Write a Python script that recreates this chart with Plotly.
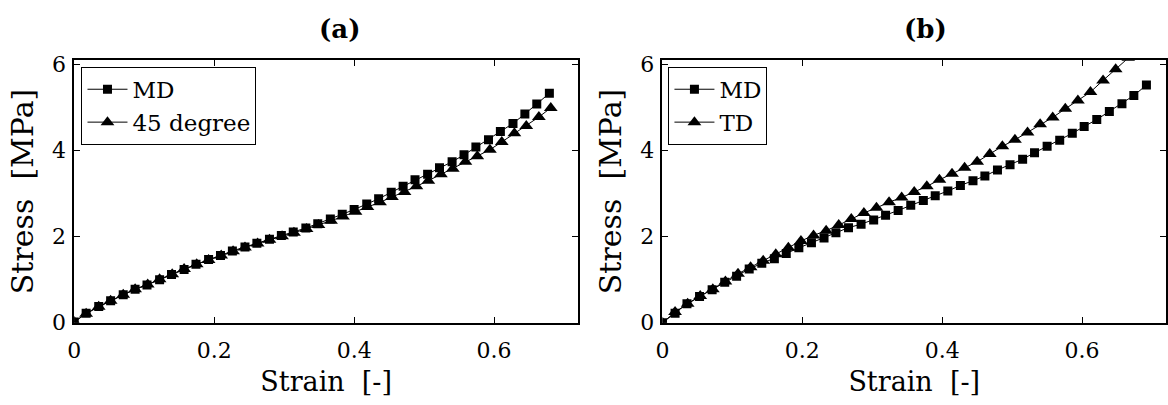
import plotly.graph_objects as go

# ---- Panel (a): MD vs 45 degree ----
strain_a_md = [0, 0.017, 0.035, 0.052, 0.070, 0.087, 0.104, 0.122, 0.139, 0.157,
               0.174, 0.192, 0.209, 0.226, 0.244, 0.261, 0.279, 0.296, 0.313, 0.331,
               0.348, 0.366, 0.383, 0.400, 0.418, 0.435, 0.453, 0.470, 0.487, 0.505,
               0.522, 0.540, 0.557, 0.574, 0.592, 0.609, 0.627, 0.644, 0.661, 0.679]
stress_a_md = [0.02, 0.22, 0.38, 0.51, 0.65, 0.78, 0.88, 1.00, 1.12, 1.24,
               1.36, 1.47, 1.56, 1.67, 1.76, 1.85, 1.94, 2.03, 2.11, 2.20,
               2.30, 2.41, 2.52, 2.63, 2.76, 2.88, 3.03, 3.17, 3.32, 3.45,
               3.60, 3.74, 3.90, 4.08, 4.25, 4.44, 4.63, 4.85, 5.08, 5.33]

strain_a_45 = [0, 0.017, 0.035, 0.052, 0.070, 0.087, 0.105, 0.122, 0.140, 0.157,
               0.175, 0.192, 0.210, 0.227, 0.244, 0.262, 0.279, 0.297, 0.314, 0.332,
               0.349, 0.367, 0.384, 0.402, 0.419, 0.437, 0.454, 0.472, 0.489, 0.506,
               0.524, 0.541, 0.559, 0.576, 0.594, 0.611, 0.629, 0.646, 0.664, 0.681]
stress_a_45 = [0.02, 0.21, 0.37, 0.51, 0.65, 0.78, 0.89, 1.01, 1.13, 1.25,
               1.36, 1.46, 1.56, 1.66, 1.75, 1.84, 1.93, 2.01, 2.09, 2.18,
               2.27, 2.37, 2.47, 2.58, 2.69, 2.80, 2.92, 3.04, 3.17, 3.30,
               3.45, 3.58, 3.74, 3.87, 4.02, 4.20, 4.40, 4.57, 4.78, 4.99]

# ---- Panel (b): MD vs TD ----
strain_b_md = [0, 0.018, 0.035, 0.053, 0.071, 0.089, 0.106, 0.124, 0.142, 0.160,
               0.177, 0.195, 0.213, 0.231, 0.248, 0.266, 0.284, 0.302, 0.319, 0.337,
               0.355, 0.373, 0.390, 0.408, 0.426, 0.444, 0.461, 0.479, 0.497, 0.515,
               0.532, 0.550, 0.568, 0.586, 0.603, 0.621, 0.639, 0.657, 0.674, 0.692]
stress_b_md = [0, 0.22, 0.44, 0.61, 0.77, 0.94, 1.08, 1.25, 1.38, 1.49,
               1.61, 1.74, 1.86, 1.97, 2.09, 2.21, 2.29, 2.39, 2.50, 2.61,
               2.73, 2.84, 2.95, 3.06, 3.19, 3.30, 3.41, 3.55, 3.67, 3.80,
               3.95, 4.10, 4.24, 4.40, 4.56, 4.72, 4.91, 5.09, 5.28, 5.52]

strain_b_td = [0, 0.018, 0.036, 0.054, 0.072, 0.090, 0.108, 0.126, 0.144, 0.162,
               0.180, 0.198, 0.216, 0.234, 0.252, 0.270, 0.288, 0.306, 0.324, 0.342,
               0.360, 0.378, 0.396, 0.414, 0.432, 0.450, 0.468, 0.486, 0.504, 0.522,
               0.540, 0.558, 0.576, 0.594, 0.612, 0.630, 0.648, 0.666]
stress_b_td = [0, 0.25, 0.44, 0.62, 0.78, 0.96, 1.14, 1.29, 1.44, 1.59,
               1.74, 1.90, 2.03, 2.14, 2.27, 2.41, 2.55, 2.67, 2.80, 2.91,
               3.04, 3.17, 3.32, 3.46, 3.60, 3.74, 3.92, 4.10, 4.25, 4.42,
               4.61, 4.77, 4.97, 5.16, 5.36, 5.63, 5.89, 6.15]

x_ticks = [0, 0.2, 0.4, 0.6]
x_tick_text = ["0", "0.2", "0.4", "0.6"]
y_ticks = [0, 2, 4, 6]
y_tick_text = ["0", "2", "4", "6"]

FONT = "DejaVu Serif, Liberation Serif, serif"
W, H = 1168, 405

fig = go.Figure()

line_style = dict(color="black", width=1)


def add_series(x, y, name, symbol, size, xa, ya, legend):
    fig.add_trace(go.Scatter(
        x=x, y=y, name=name, mode="lines+markers",
        line=line_style,
        marker=dict(symbol=symbol, size=size, color="black",
                    line=dict(width=0)),
        xaxis=xa, yaxis=ya, legend=legend,
    ))


add_series(strain_a_md, stress_a_md, "MD", "square", 9, "x", "y", "legend")
add_series(strain_a_45, stress_a_45, "45 degree", "triangle-up", 12, "x", "y", "legend")
add_series(strain_b_md, stress_b_md, "MD", "square", 9, "x2", "y2", "legend2")
add_series(strain_b_td, stress_b_td, "TD", "triangle-up", 12, "x2", "y2", "legend2")

# plot-area boxes in pixels
left_a, right_a = 67.7, 575.0
left_b, right_b = 660.0, 1167.0
top_px, bottom_px = 55.0, 332.0

ydom = [1 - bottom_px / H, 1 - top_px / H]

axis_common = dict(
    showline=True, linecolor="black", linewidth=1.5, mirror="ticks",
    ticks="inside", ticklen=6, tickwidth=1, tickcolor="black",
    showgrid=False, zeroline=False,
    tickfont=dict(family=FONT, size=22, color="black"),
)

xaxis_common = dict(axis_common, range=[0, 0.72], tickvals=x_ticks,
                    ticktext=x_tick_text, ticklabelstandoff=7,
                    title=dict(text="Strain  [-]", standoff=10,
                               font=dict(family=FONT, size=27, color="black")))
yaxis_common = dict(axis_common, range=[0, 6.1], tickvals=y_ticks,
                    ticktext=y_tick_text, ticklabelstandoff=2,
                    title=dict(text="Stress  [MPa]", standoff=10,
                               font=dict(family=FONT, size=30, color="black")))

legend_common = dict(
    bgcolor="white", bordercolor="black", borderwidth=1,
    font=dict(family=FONT, size=23, color="black"),
    xanchor="left", yanchor="top", itemwidth=40,
    tracegroupgap=0,
)

fig.update_layout(
    width=W, height=H,
    margin=dict(l=0, r=0, t=0, b=0),
    paper_bgcolor="white", plot_bgcolor="white",
    xaxis=dict(xaxis_common, domain=[left_a / W, right_a / W], anchor="y"),
    yaxis=dict(yaxis_common, domain=ydom, anchor="x"),
    xaxis2=dict(xaxis_common, domain=[left_b / W, right_b / W], anchor="y2"),
    yaxis2=dict(yaxis_common, domain=ydom, anchor="x2"),
    legend=dict(legend_common, x=75 / W, y=1 - 62 / H),
    legend2=dict(legend_common, x=666 / W, y=1 - 62 / H),
    annotations=[
        dict(text="<b>(a)</b>", x=335 / W, y=1 - 22 / H, xref="paper", yref="paper",
             showarrow=False, xanchor="center", yanchor="middle",
             font=dict(family=FONT, size=26, color="black")),
        dict(text="<b>(b)</b>", x=925 / W, y=1 - 22 / H, xref="paper", yref="paper",
             showarrow=False, xanchor="center", yanchor="middle",
             font=dict(family=FONT, size=26, color="black")),
    ],
)

fig.write_html("out.html")
